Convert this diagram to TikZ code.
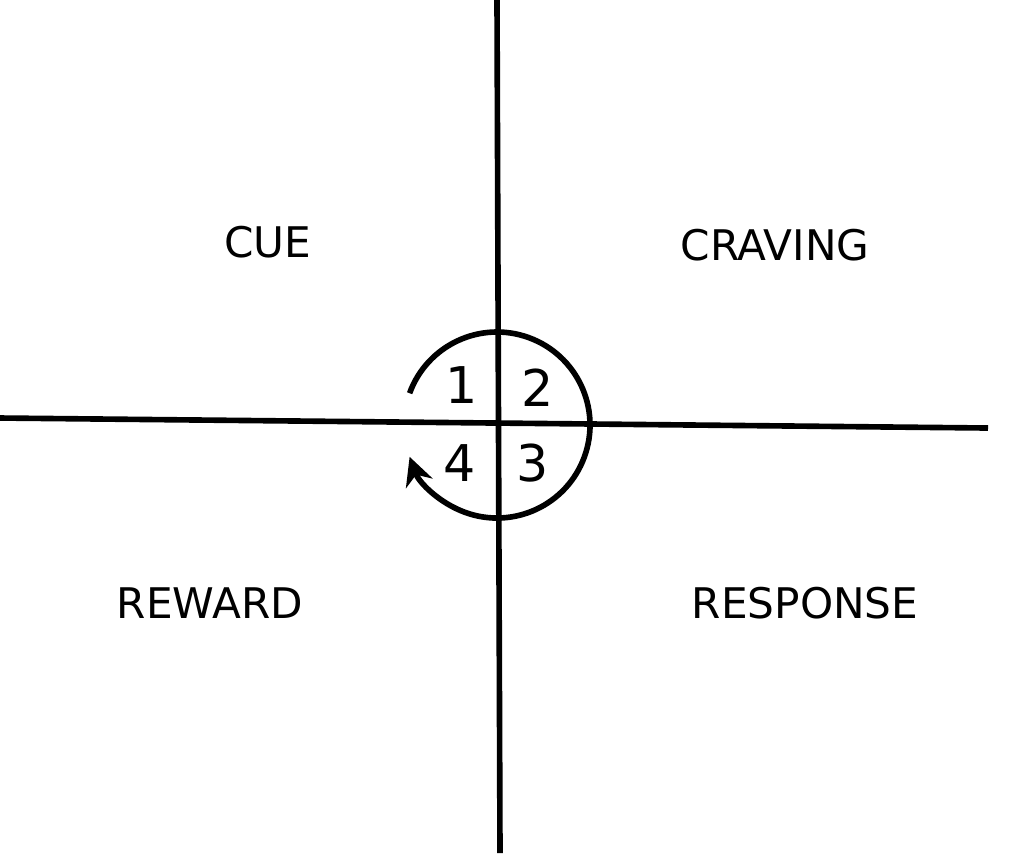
\documentclass[tikz,border=0pt]{standalone}
\usepackage{fontspec}
\setmainfont{DejaVu Sans}
\usetikzlibrary{arrows.meta,calc}
\begin{document}
\begin{tikzpicture}[x=0.01cm,y=-0.01cm,
    label/.style={font=\large},
    digit/.style={font=\Large}]

    % frame
    \useasboundingbox (0,0) rectangle (1024,853);

    % Axes
    \coordinate (top) at (497,0);
    \coordinate (bottom) at (500,853);
    \coordinate (left) at (0,418);
    \coordinate (right) at (988,428);
    \draw[line width=1.6pt] (top) -- (bottom);
    \draw[line width=1.6pt] (left) -- (right);

    % loop circle
    \coordinate (centre) at (497,425);
    \draw[line width=1.6pt, -{Stealth[length=8pt,width=8pt]}]
        ($(centre)+(-160:93)$) arc[start angle=-160, end angle=160, radius=93];

    % quadrant labels
    \node[label] (cue) at (268,242) {CUE};
    \node[label] (craving) at (775,245) {CRAVING};
    \node[label] (reward) at (210,603) {REWARD};
    \node[label] (response) at (805,603) {RESPONSE};

    % numbers
    \node[digit] (one) at (462,385) {1};
    \node[digit] (two) at (538,388) {2};
    \node[digit] (three) at (533,463) {3};
    \node[digit] (four) at (460,463) {4};

\end{tikzpicture}
\end{document}
